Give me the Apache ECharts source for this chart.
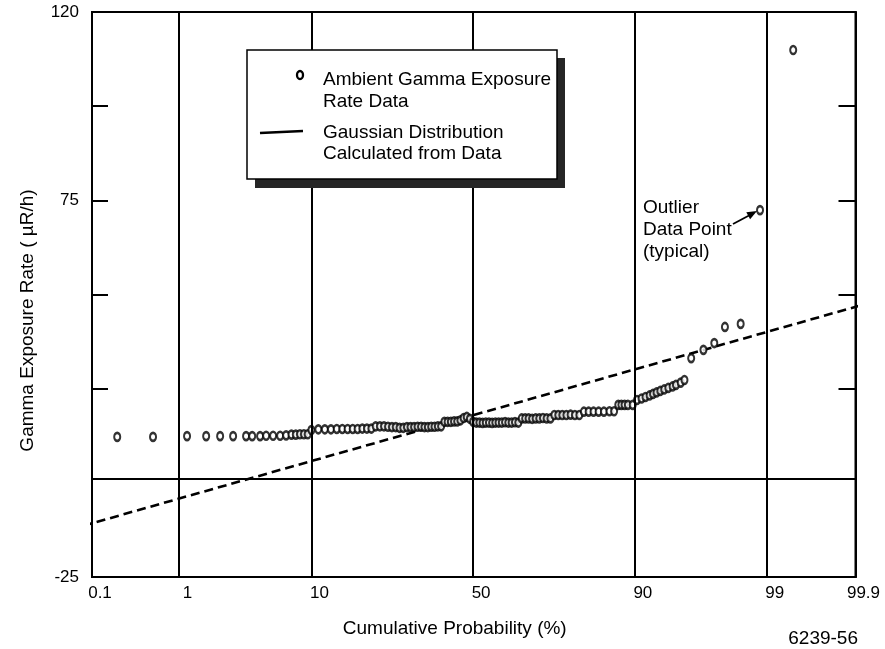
<!DOCTYPE html>
<html>
<head>
<meta charset="utf-8">
<script src="https://cdn.jsdelivr.net/npm/echarts@6/dist/echarts.min.js"></script>
<style>html,body{margin:0;padding:0;background:#fff}#c{width:885px;height:649px}</style>
</head>
<body>
<div id="c"></div>
<script>
// ---------- data ----------
const tickProbs  = [0.1, 1, 10, 50, 90, 99, 99.9];
const tickLabels = ['0.1', '1', '10', '50', '90', '99', '99.9'];
const gridProbs  = [1, 10, 50, 90, 99];
const yTickValues  = [25, 50, 75, 100];
const yLabelValues = [125, 75, -25];
const yLabelTexts  = ['120', '75', '-25'];
const refLineRate = 1;

// cumulative probability (%) of each measured point
const dataProbs = [
  0.24, 0.56, 1.17, 1.72, 2.25, 2.86, 3.6, 4.0, 4.57, 5.05, 5.65, 6.31, 6.92, 7.5, 8.0, 8.5, 9.0, 9.5,
  10, 11, 12, 13, 14, 15, 16, 17, 18, 19, 20, 21,
  22, 23, 24, 25, 26, 27, 28, 29, 30, 31, 32, 33, 34, 35, 36, 37, 38, 39, 40,
  41, 42, 43, 44, 45, 46, 47, 48, 49,
  50, 51, 52, 53, 54, 55, 56, 57, 58, 59, 60, 61, 62, 63, 64,
  65, 66, 67, 68, 69, 70, 71, 72, 73,
  74, 75, 76, 77, 78, 79, 80,
  81, 82, 83, 84, 85, 86, 86.8,
  87.5, 88, 88.5, 89, 89.7,
  90.3, 90.9, 91.4, 91.9, 92.3, 92.7, 93.1, 93.5, 93.9, 94.3, 94.6, 95.0, 95.3,
  95.8, 96.6, 97.2, 97.7, 98.3, 98.85, 99.44
];
// gamma exposure rate (µR/h) of each measured point
const dataRates = [
  12.2, 12.2, 12.4, 12.4, 12.4, 12.4, 12.4, 12.4, 12.4, 12.5, 12.5, 12.5, 12.6, 12.8, 12.8, 12.9, 12.9, 12.9,
  14.0, 14.2, 14.2, 14.2, 14.3, 14.3, 14.3, 14.3, 14.3, 14.4, 14.4, 14.4,
  15.0, 15.0, 15.0, 14.9, 14.8, 14.8, 14.6, 14.6, 14.8, 14.8, 14.8, 14.9, 14.9, 14.8, 14.8, 14.9, 14.9, 15.0, 15.0,
  16.2, 16.2, 16.2, 16.3, 16.3, 16.6, 17.2, 17.5, 17.0,
  16.2, 16.0, 16.0, 15.9, 16.0, 16.0, 15.9, 16.0, 16.0, 16.0, 16.1, 16.0, 16.0, 16.1, 16.0,
  17.1, 17.1, 17.1, 17.0, 17.1, 17.1, 17.2, 17.1, 17.1,
  18.0, 18.0, 18.0, 18.0, 18.1, 18.0, 18.0,
  18.9, 18.9, 18.9, 18.9, 18.9, 19.0, 19.0,
  20.7, 20.7, 20.7, 20.7, 20.7,
  22.0, 22.4, 22.8, 23.2, 23.6, 24.0, 24.4, 24.8, 25.2, 25.6, 26.0, 26.6, 27.3,
  33.1, 35.3, 37.1, 41.4, 42.2, 72.4, 114.9
];
// Gaussian fitted line end points
const gaussProbs = [0.1, 99.9];
const gaussRates = [-11.4, 47.3];

// ---------- probability-paper scale ----------
function invNorm(p) {
  const a=[-3.969683028665376e+01,2.209460984245205e+02,-2.759285104469687e+02,1.383577518672690e+02,-3.066479806614716e+01,2.506628277459239e+00];
  const b=[-5.447609879822406e+01,1.615858368580409e+02,-1.556989798598866e+02,6.680131188771972e+01,-1.328068155288572e+01];
  const c=[-7.784894002430293e-03,-3.223964580411365e-01,-2.400758277161838e+00,-2.549732539343734e+00,4.374664141464968e+00,2.938163982698783e+00];
  const d=[7.784695709041462e-03,3.224671290700398e-01,2.445134137142996e+00,3.754408661907416e+00];
  const pl=0.02425, ph=1-pl; let q, r;
  if (p < pl) { q=Math.sqrt(-2*Math.log(p)); return (((((c[0]*q+c[1])*q+c[2])*q+c[3])*q+c[4])*q+c[5])/((((d[0]*q+d[1])*q+d[2])*q+d[3])*q+1); }
  if (p <= ph) { q=p-0.5; r=q*q; return (((((a[0]*r+a[1])*r+a[2])*r+a[3])*r+a[4])*r+a[5])*q/(((((b[0]*r+b[1])*r+b[2])*r+b[3])*r+b[4])*r+1); }
  q=Math.sqrt(-2*Math.log(1-p)); return -(((((c[0]*q+c[1])*q+c[2])*q+c[3])*q+c[4])*q+c[5])/((((d[0]*q+d[1])*q+d[2])*q+d[3])*q+1);
}
const z = pct => invNorm(pct / 100);
const X_MIN = -3.02, X_MAX = 3.03;   // span of the probability paper (probits)
const clampX = v => Math.min(X_MAX, Math.max(X_MIN, v));
const tickVals = tickProbs.map(p => clampX(z(p)));

const FONT = '"Liberation Sans", Arial, Helvetica, sans-serif';
const BLACK = '#000';

const chart = echarts.init(document.getElementById('c'), null, {renderer: 'canvas'});
chart.setOption({
  animation: false,
  backgroundColor: '#fff',
  textStyle: {fontFamily: FONT, color: BLACK},
  grid: {left: 92, right: 29.5, top: 12, bottom: 72, show: true, borderColor: BLACK, borderWidth: 2,
         containLabel: false, outerBoundsMode: 'none'},
  xAxis: [{
    type: 'value', min: X_MIN, max: X_MAX,
    name: 'Cumulative Probability (%)', nameLocation: 'middle', nameGap: 42,
    nameTextStyle: {fontFamily: FONT, fontSize: 19, color: BLACK, padding: [0, 38, 0, 0]},
    axisLine: {show: true, onZero: false, lineStyle: {color: BLACK, width: 2}},
    axisTick: {show: false},
    splitLine: {show: false},
    axisLabel: {
      customValues: tickVals, showMinLabel: true, showMaxLabel: true,
      fontFamily: FONT, fontSize: 17, color: BLACK, margin: 8, padding: [0, 0, 0, 16],
      formatter: v => {
        for (let i = 0; i < tickVals.length; i++) if (Math.abs(tickVals[i] - v) < 1e-6) return tickLabels[i];
        return '';
      }
    }
  }],
  yAxis: [{
    type: 'value', min: -25, max: 125, interval: 25, position: 'left',
    name: 'Gamma Exposure Rate ( µR/h)', nameLocation: 'middle', nameGap: 55,
    nameTextStyle: {fontFamily: FONT, fontSize: 19, color: BLACK, padding: [0, 52, 0, 0]},
    axisLine: {show: true, onZero: false, lineStyle: {color: BLACK, width: 2}},
    axisTick: {show: true, inside: true, length: 16, customValues: yTickValues, lineStyle: {color: BLACK, width: 2}},
    splitLine: {show: false},
    axisLabel: {
      fontFamily: FONT, fontSize: 17, color: BLACK, margin: 13,
      formatter: v => { const i = yLabelValues.indexOf(v); return i >= 0 ? yLabelTexts[i] : ''; }
    }
  }, {
    type: 'value', min: -25, max: 125, interval: 25, position: 'right',
    axisLine: {show: true, onZero: false, lineStyle: {color: BLACK, width: 2}},
    axisTick: {show: true, inside: true, length: 17, customValues: yTickValues, lineStyle: {color: BLACK, width: 2}},
    splitLine: {show: false},
    axisLabel: {show: false}
  }],
  series: [{
    name: 'Gaussian Distribution Calculated from Data',
    type: 'line', z: 2, clip: true, symbol: 'none', silent: true,
    data: gaussProbs.map((p, i) => [z(p), gaussRates[i]]),
    lineStyle: {color: BLACK, width: 2.6, type: [9, 5]},
    markLine: {
      silent: true, symbol: ['none', 'none'], label: {show: false},
      lineStyle: {color: BLACK, width: 2, type: 'solid'},
      emphasis: {disabled: true},
      data: gridProbs.map(p => ({xAxis: z(p)})).concat([{yAxis: refLineRate}])
    }
  }, {
    name: 'Ambient Gamma Exposure Rate Data',
    type: 'scatter', z: 3, silent: true,
    symbol: 'circle', symbolSize: [6, 8],
    itemStyle: {color: '#fff', borderColor: BLACK, borderWidth: 2.3},
    data: dataProbs.map((p, i) => [z(p), dataRates[i]])
  }],
  graphic: [
    {type: 'rect', z: 100, shape: {x: 255, y: 58, width: 310, height: 130}, style: {fill: '#262626'}},
    {type: 'rect', z: 101, shape: {x: 247, y: 50, width: 310, height: 129}, style: {fill: '#fff', stroke: BLACK, lineWidth: 1.5}},
    {type: 'ellipse', z: 102, shape: {cx: 300, cy: 75, rx: 3, ry: 4}, style: {fill: '#fff', stroke: BLACK, lineWidth: 2.3}},
    {type: 'line', z: 102, shape: {x1: 260, y1: 133, x2: 303, y2: 131}, style: {stroke: BLACK, lineWidth: 2.5}},
    {type: 'text', z: 102, x: 323, y: 69, style: {text: 'Ambient Gamma Exposure\nRate Data', fontFamily: FONT, fontSize: 19, lineHeight: 22, fill: BLACK, align: 'left', verticalAlign: 'top'}},
    {type: 'text', z: 102, x: 323, y: 122, style: {text: 'Gaussian Distribution\nCalculated from Data', fontFamily: FONT, fontSize: 19, lineHeight: 21, fill: BLACK, align: 'left', verticalAlign: 'top'}},
    {type: 'text', z: 102, x: 643, y: 197, style: {text: 'Outlier\nData Point\n(typical)', fontFamily: FONT, fontSize: 19, lineHeight: 22, fill: BLACK, align: 'left', verticalAlign: 'top'}},
    {type: 'line', z: 102, shape: {x1: 733, y1: 224, x2: 749, y2: 215.5}, style: {stroke: BLACK, lineWidth: 1.8}},
    {type: 'polygon', z: 102, shape: {points: [[757, 211], [750.1, 219.3], [746.3, 212.3]]}, style: {fill: BLACK}},
    {type: 'text', z: 102, x: 858, y: 639, style: {text: '6239-56', fontFamily: FONT, fontSize: 19, fill: BLACK, align: 'right', verticalAlign: 'middle'}}
  ]
});
</script>
</body>
</html>
